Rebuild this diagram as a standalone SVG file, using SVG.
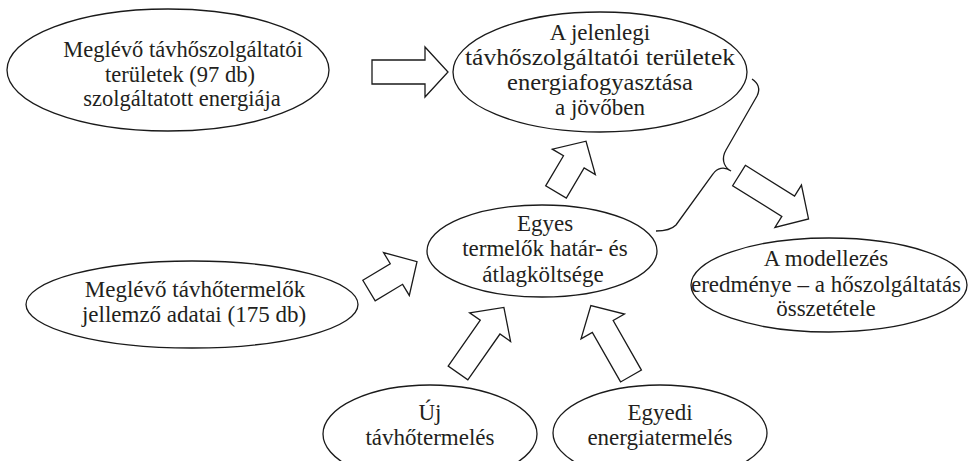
<svg xmlns="http://www.w3.org/2000/svg" width="971" height="461" viewBox="0 0 971 461">
<style>
.n ellipse{fill:#fff;stroke:#1a1a1a;stroke-width:1.3}
text{font-family:"Liberation Serif","Times New Roman",serif;font-size:23px;fill:#231f20;text-anchor:middle}
.a{fill:#fff;stroke:#1a1a1a;stroke-width:1.3;stroke-linejoin:miter}
.b{fill:none;stroke:#1a1a1a;stroke-width:1.3}
</style>
<rect width="971" height="461" fill="#fff"/>
<g id="n1" class="n"><ellipse cx="168" cy="70" rx="161" ry="61"/>
<text x="183" y="57" style="font-size:22.5px">Meglévő távhőszolgáltatói</text><text x="180" y="82" style="font-size:22.5px">területek (97 db)</text><text x="182" y="106" style="font-size:22.5px">szolgáltatott energiája</text></g>
<g id="n2" class="n"><ellipse cx="600" cy="72" rx="147" ry="60"/>
<text x="600" y="40">A jelenlegi</text><text x="600" y="65" style="font-size:24px" textLength="270" lengthAdjust="spacingAndGlyphs">távhőszolgáltatói területek</text><text x="600" y="90" style="font-size:24px" textLength="186" lengthAdjust="spacingAndGlyphs">energiafogyasztása</text><text x="600" y="115">a jövőben</text></g>
<g id="n3" class="n"><ellipse cx="542" cy="251" rx="115" ry="46"/>
<text x="545" y="231">Egyes</text><text x="545" y="256">termelők határ- és</text><text x="543" y="282">átlagköltsége</text></g>
<g id="n4" class="n"><ellipse cx="192" cy="304.5" rx="166" ry="43.5"/>
<text x="195" y="297">Meglévő távhőtermelők</text><text x="194" y="322">jellemző adatai (175 db)</text></g>
<g id="n5" class="n"><ellipse cx="829" cy="285" rx="138" ry="47"/>
<text x="826" y="266">A modellezés</text><text x="826" y="292">eredménye – a hőszolgáltatás</text><text x="826" y="316">összetétele</text></g>
<g id="n6" class="n"><ellipse cx="430" cy="434" rx="107" ry="49"/>
<text x="430" y="420">Új</text><text x="430" y="445">távhőtermelés</text></g>
<g id="n7" class="n"><ellipse cx="660" cy="433" rx="107" ry="48"/>
<text x="660" y="420">Egyedi</text><text x="660" y="445">energiatermelés</text></g>
<g id="connectors">
<polygon class="a" transform="translate(372,72)" points="0,-12 53,-12 53,-25 76,0 53,25 53,12 0,12"/>
<polygon class="a" transform="translate(556,192) rotate(-59.4)" points="0,-12 35,-12 35,-25 59,0 35,25 35,12 0,12"/>
<polygon class="a" transform="translate(739,175.5) rotate(32)" points="0,-12 58,-12 58,-25 82,0 58,25 58,12 0,12"/>
<polygon class="a" transform="translate(369,290.5) rotate(-31)" points="0,-12 32,-12 32,-25 56,0 32,25 32,12 0,12"/>
<polygon class="a" transform="translate(458,373) rotate(-55)" points="0,-12 56,-12 56,-25 80,0 56,25 56,12 0,12"/>
<polygon class="a" transform="translate(631,376) rotate(-119.7)" points="0,-12 57,-12 57,-25 81,0 57,25 57,12 0,12"/>
<path class="b" d="M752,79 C758,83 761,88 757,96 L726,150 C722,157 722,166 731,171 C724,166 717,168 713,174 L676,225 C671,230 664,231 656,231"/>
</g>
</svg>
